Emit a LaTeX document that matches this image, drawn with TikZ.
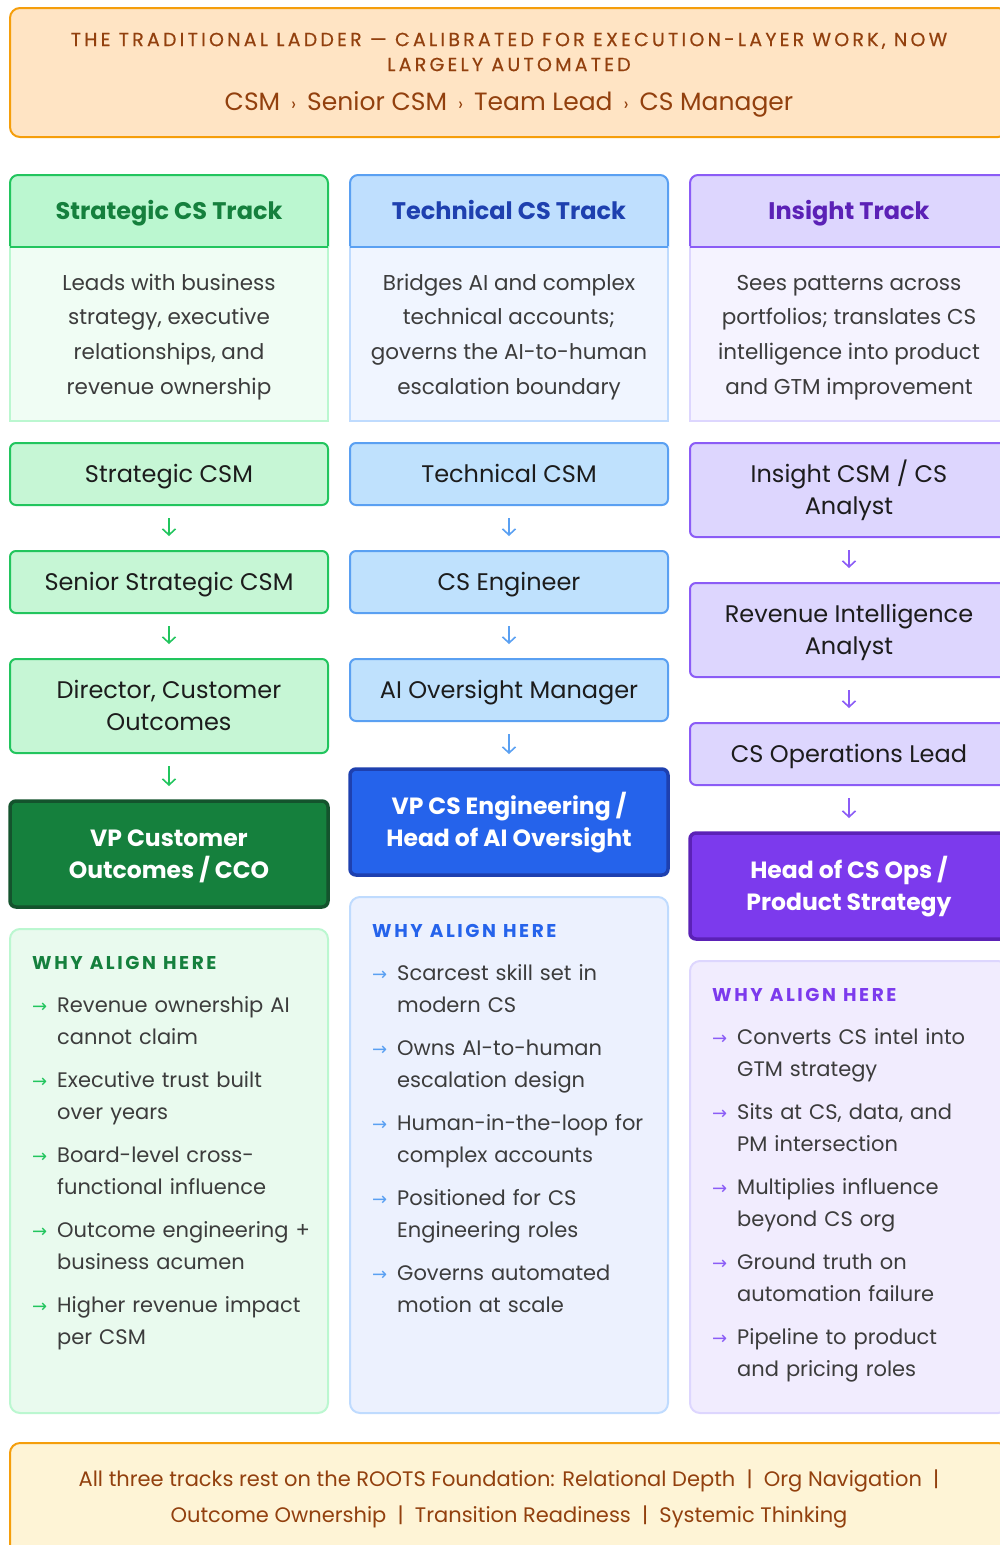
\documentclass[tikz,border=0pt]{standalone}
\usepackage{fontspec}
\setmainfont{Poppins}
\newfontfamily\symfont{DejaVu Sans}
\usepackage{tikz}
\usetikzlibrary{arrows.meta,positioning,backgrounds}

% ladder and roots banners
\definecolor{amberLine}{HTML}{F59E0B}
\definecolor{amberText}{HTML}{92400E}
\definecolor{ladderFill}{HTML}{FFE4C4}
\definecolor{rootsFill}{HTML}{FEF4D6}
% strategic track
\definecolor{grnHead}{HTML}{BBF7D0}
\definecolor{grnLine}{HTML}{22C55E}
\definecolor{grnTitle}{HTML}{15803D}
\definecolor{grnDesc}{HTML}{F0FDF4}
\definecolor{grnStage}{HTML}{C6F6D5}
\definecolor{grnTop}{HTML}{15803D}
\definecolor{grnTopLine}{HTML}{14532D}
\definecolor{grnWhy}{HTML}{E9FAEE}
% technical track
\definecolor{bluHead}{HTML}{BFDFFE}
\definecolor{bluLine}{HTML}{5AA0F2}
\definecolor{bluTitle}{HTML}{1E40AF}
\definecolor{bluDesc}{HTML}{F0F5FF}
\definecolor{bluSoft}{HTML}{BFDBFE}
\definecolor{bluStage}{HTML}{BFE1FD}
\definecolor{bluTop}{HTML}{2563EB}
\definecolor{bluTopLine}{HTML}{1E40AF}
\definecolor{bluWhy}{HTML}{ECF1FE}
% insight track
\definecolor{vioHead}{HTML}{DDD6FE}
\definecolor{vioLine}{HTML}{8B5CF6}
\definecolor{vioTitle}{HTML}{5B21B6}
\definecolor{vioDesc}{HTML}{F5F3FF}
\definecolor{vioStage}{HTML}{DDD6FE}
\definecolor{vioTop}{HTML}{7C3AED}
\definecolor{vioTopLine}{HTML}{5B21B6}
\definecolor{vioWhy}{HTML}{F1ECFE}
% text
\definecolor{ink}{HTML}{1C1C1C}
\definecolor{body}{HTML}{3C3C3C}

\newcommand\whyhead{\fontsize{18.5}{22}\selectfont\bfseries\addfontfeatures{LetterSpace=14}}
\newcommand\whyitem[2]{\par\vspace{11pt}\hangindent=25pt\hangafter=1\noindent
  \makebox[25pt][l]{\textcolor{#1}{\symfont\fontsize{18}{18}\selectfont →}}#2}
\newcommand\chev{\hspace{11pt}{\fontsize{18}{18}\selectfont ›}\hspace{11pt}}

\begin{document}
\begin{tikzpicture}[x=1pt,y=-1pt,
    node distance=46pt,
    >={Straight Barb[length=6pt,width=13pt]},
    banner/.style={draw=amberLine,line width=2pt,rounded corners=10pt,
      minimum width=998pt,anchor=north west,outer sep=0pt},
    trackhead/.style={minimum width=318pt,minimum height=72pt,anchor=north west,
      outer sep=0pt,text height=17pt,text depth=0pt,
      font=\fontsize{24}{30}\selectfont\bfseries},
    desc/.style={draw,line width=2pt,minimum width=318pt,minimum height=174pt,
      outer sep=0pt,text width=300pt,align=flush center,text=body,
      font=\fontsize{21.5}{34.7}\selectfont,
      execute at begin node=\rule{0pt}{27pt},execute at end node=\strut},
    stage/.style={draw,line width=2pt,rounded corners=6pt,minimum width=318pt,
      minimum height=62pt,outer sep=0pt,text width=300pt,align=flush center,text=ink,
      font=\fontsize{24}{32}\selectfont,
      execute at begin node=\rule{0pt}{27pt},execute at end node=\strut},
    twoline/.style={minimum height=94pt},
    toprole/.style={stage,line width=3.5pt,minimum height=106pt,text=white,
      font=\fontsize{23.5}{32}\selectfont\bfseries},
    whybox/.style={draw,line width=2pt,rounded corners=10pt,minimum width=318pt,
      outer sep=0pt},
    whylist/.style={anchor=north west,inner sep=0pt,text width=292pt,align=left,
      text=body,font=\fontsize{21}{32}\selectfont},
    climb/.style={->,line width=1.6pt,shorten <=13pt,shorten >=15pt}]

  \useasboundingbox (0,0) rectangle (999,1545);

  % traditional ladder
  \node[banner,fill=ladderFill,minimum height=129pt] (ladder) at (10,8) {};
  \node[text=amberText,align=center,
    font=\fontsize{19}{25}\selectfont\addfontfeatures{LetterSpace=17,FakeBold=0.5}]
    (ladderTitle) at (509,52) {THE TRADITIONAL LADDER — CALIBRATED FOR EXECUTION-LAYER WORK, NOW\\LARGELY AUTOMATED};
  \node[text=amberText,font=\fontsize{25}{30}\selectfont]
    (ladderPath) at (509,104) {CSM\chev Senior CSM\chev Team Lead\chev CS Manager};

  % track headers and descriptions
  \node[trackhead,text=grnTitle] (headS) at (10,175) {Strategic CS Track};
  \node[trackhead,text=bluTitle] (headT) at (350,175) {Technical CS Track};
  \node[trackhead,text=vioTitle] (headI) at (690,175) {Insight Track};
  \begin{scope}[on background layer]
    \filldraw[fill=grnHead,draw=grnLine,line width=2pt,rounded corners=8pt]
      (headS.south west) -- (headS.north west) -- (headS.north east) -- (headS.south east);
    \filldraw[fill=bluHead,draw=bluLine,line width=2pt,rounded corners=8pt]
      (headT.south west) -- (headT.north west) -- (headT.north east) -- (headT.south east);
    \filldraw[fill=vioHead,draw=vioLine,line width=2pt,rounded corners=8pt]
      (headI.south west) -- (headI.north west) -- (headI.north east) -- (headI.south east);
  \end{scope}

  \node[desc,fill=grnDesc,draw=grnHead,below=0pt of headS] (descS)
    {Leads with business\\strategy, executive\\relationships, and\\revenue ownership};
  \node[desc,fill=bluDesc,draw=bluSoft,below=0pt of headT] (descT)
    {Bridges AI and complex\\technical accounts;\\governs the AI-to-human\\escalation boundary};
  \node[desc,fill=vioDesc,draw=vioHead,below=0pt of headI] (descI)
    {Sees patterns across\\portfolios; translates CS\\intelligence into product\\and GTM improvement};
  \draw[grnLine,line width=2.5pt] (headS.south west) -- (headS.south east);
  \draw[bluLine,line width=2.5pt] (headT.south west) -- (headT.south east);
  \draw[vioLine,line width=2.5pt] (headI.south west) -- (headI.south east);

  % strategic ladder
  \node[stage,fill=grnStage,draw=grnLine,below=22pt of descS] (s1) {Strategic CSM};
  \node[stage,fill=grnStage,draw=grnLine,below=of s1] (s2) {Senior Strategic CSM};
  \node[stage,twoline,fill=grnStage,draw=grnLine,below=of s2] (s3) {Director, Customer\\Outcomes};
  \node[toprole,fill=grnTop,draw=grnTopLine,below=48pt of s3] (s4) {VP Customer\\Outcomes / CCO};
  \draw[climb,grnLine] (s1) -- (s2);
  \draw[climb,grnLine] (s2) -- (s3);
  \draw[climb,grnLine] (s3) -- (s4);

  % technical ladder
  \node[stage,fill=bluStage,draw=bluLine,below=22pt of descT] (t1) {Technical CSM};
  \node[stage,fill=bluStage,draw=bluLine,below=of t1] (t2) {CS Engineer};
  \node[stage,fill=bluStage,draw=bluLine,below=of t2] (t3) {AI Oversight Manager};
  \node[toprole,fill=bluTop,draw=bluTopLine,below=48pt of t3] (t4) {VP CS Engineering /\\Head of AI Oversight};
  \draw[climb,bluLine] (t1) -- (t2);
  \draw[climb,bluLine] (t2) -- (t3);
  \draw[climb,bluLine] (t3) -- (t4);

  % insight ladder
  \node[stage,twoline,fill=vioStage,draw=vioLine,below=22pt of descI] (i1) {Insight CSM / CS\\Analyst};
  \node[stage,twoline,fill=vioStage,draw=vioLine,below=of i1] (i2) {Revenue Intelligence\\Analyst};
  \node[stage,fill=vioStage,draw=vioLine,below=of i2] (i3) {CS Operations Lead};
  \node[toprole,fill=vioTop,draw=vioTopLine,below=48pt of i3] (i4) {Head of CS Ops /\\Product Strategy};
  \draw[climb,vioLine] (i1) -- (i2);
  \draw[climb,vioLine] (i2) -- (i3);
  \draw[climb,vioLine] (i3) -- (i4);

  % why align here
  \node[whybox,fill=grnWhy,draw=grnHead,minimum height=484pt,below=22pt of s4] (whyS) {};
  \node[whylist] (listS) at ([shift={(22pt,-27pt)}]whyS.north west)
    {{\whyhead\color{grnTitle}WHY ALIGN HERE}
     \whyitem{grnLine}{Revenue ownership AI\newline cannot claim}
     \whyitem{grnLine}{Executive trust built\newline over years}
     \whyitem{grnLine}{Board-level cross-\newline functional influence}
     \whyitem{grnLine}{Outcome engineering +\newline business acumen}
     \whyitem{grnLine}{Higher revenue impact\newline per CSM}\par};

  \node[whybox,fill=bluWhy,draw=bluSoft,minimum height=516pt,below=22pt of t4] (whyT) {};
  \node[whylist] (listT) at ([shift={(22pt,-27pt)}]whyT.north west)
    {{\whyhead\color{bluTop}WHY ALIGN HERE}
     \whyitem{bluLine}{Scarcest skill set in\newline modern CS}
     \whyitem{bluLine}{Owns AI-to-human\newline escalation design}
     \whyitem{bluLine}{Human-in-the-loop for\newline complex accounts}
     \whyitem{bluLine}{Positioned for CS\newline Engineering roles}
     \whyitem{bluLine}{Governs automated\newline motion at scale}\par};

  \node[whybox,fill=vioWhy,draw=vioHead,minimum height=452pt,below=22pt of i4] (whyI) {};
  \node[whylist] (listI) at ([shift={(22pt,-27pt)}]whyI.north west)
    {{\whyhead\color{vioTop}WHY ALIGN HERE}
     \whyitem{vioLine}{Converts CS intel into\newline GTM strategy}
     \whyitem{vioLine}{Sits at CS, data, and\newline PM intersection}
     \whyitem{vioLine}{Multiplies influence\newline beyond CS org}
     \whyitem{vioLine}{Ground truth on\newline automation failure}
     \whyitem{vioLine}{Pipeline to product\newline and pricing roles}\par};

  % roots foundation
  \node[banner,fill=rootsFill,minimum height=120pt] (roots) at (10,1443) {};
  \node[text=amberText,align=center,font=\fontsize{21}{36}\selectfont]
    (rootsText) at (509,1499) {All three tracks rest on the ROOTS Foundation: Relational Depth \ | \ Org Navigation \ |\\Outcome Ownership \ | \ Transition Readiness \ | \ Systemic Thinking};
\end{tikzpicture}
\end{document}
